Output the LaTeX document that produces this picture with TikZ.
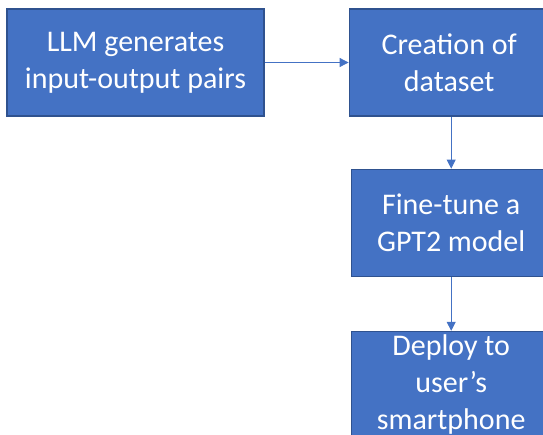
\documentclass[tikz,border=0pt]{standalone}
\usepackage{fontspec}
\setmainfont{Carlito}
\usetikzlibrary{positioning,arrows.meta}
\definecolor{boxblue}{HTML}{4472C4}
\definecolor{boxedge}{HTML}{2F528F}
\begin{document}
\begin{tikzpicture}[x=1pt, y=-1pt, node distance=52pt,
  every node/.style={align=center, text=white, font=\fontsize{30}{37}\selectfont},
  stepbox/.style={draw=boxedge, fill=boxblue, line width=1.2pt, inner ysep=0pt, minimum height=107pt, minimum width=200pt}]
\useasboundingbox (0,0) rectangle (543,434);
\node (llm) [stepbox, minimum width=257pt] at (135.5,62.5) {LLM generates\\input-output pairs};
\node (dataset) [stepbox, right=84pt of llm] {Creation of\\dataset};
\node (finetune) [stepbox, below=of dataset, xshift=2pt] {Fine-tune a\\GPT2 model};
\node (deploy) [stepbox, below=54pt of finetune] {Deploy to\\user’s\\smartphone};

\draw[-{Triangle[length=9pt, width=9pt]}, boxblue, line width=0.8pt] (llm) -- (dataset);
\draw[-{Triangle[length=9pt, width=9pt]}, boxblue, line width=0.8pt] (dataset.south -| finetune) -- (finetune);
\draw[-{Triangle[length=9pt, width=9pt]}, boxblue, line width=0.8pt] (finetune) -- (deploy);
\end{tikzpicture}
\end{document}
